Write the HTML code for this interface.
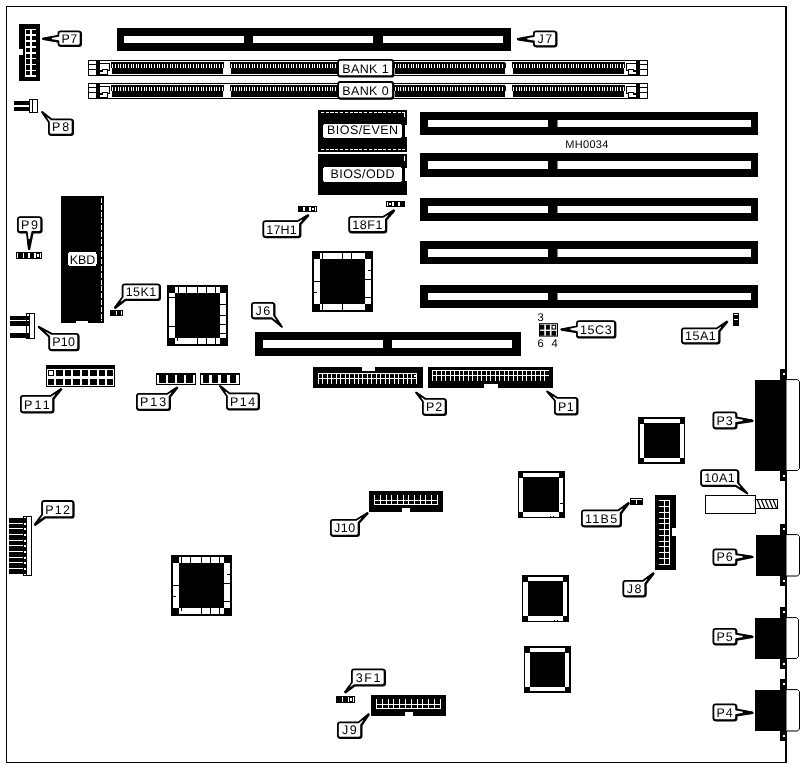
<!DOCTYPE html>
<html lang="en">
<head>
<meta charset="utf-8">
<title>MH0034 motherboard layout</title>
<style>
html,body{margin:0;padding:0;background:#fff;}
body{width:804px;height:768px;overflow:hidden;font-family:"Liberation Sans",sans-serif;}
svg{display:block;filter:grayscale(1);}
</style>
</head>
<body>
<svg width="804" height="768" viewBox="0 0 804 768" font-family="'Liberation Sans', sans-serif" shape-rendering="crispEdges" text-rendering="geometricPrecision">
<rect x="0" y="0" width="804" height="768" fill="#fff"/>
<rect x="6" y="6" width="781" height="1" fill="#000"/>
<rect x="6" y="6" width="1" height="757" fill="#000"/>
<rect x="6" y="762" width="781" height="1" fill="#000"/>
<rect x="785" y="6" width="2" height="757" fill="#000"/>
<rect x="117" y="28" width="394" height="22.5" fill="#000"/>
<rect x="123.5" y="36" width="120.5" height="7" fill="#fff"/>
<rect x="253" y="36" width="120" height="7" fill="#fff"/>
<rect x="383" y="36" width="120" height="7" fill="#fff"/>
<rect x="88.5" y="60.5" width="559" height="15" fill="#fff" stroke="#000" stroke-width="1"/>
<rect x="88" y="64" width="8.2" height="1" fill="#000"/>
<rect x="88" y="69" width="8.2" height="1" fill="#000"/>
<rect x="96.2" y="61" width="3.8" height="15" fill="#000"/>
<rect x="99.5" y="63" width="10.5" height="8" fill="#000"/>
<rect x="100.4" y="64" width="8.6" height="6" fill="#fff"/>
<rect x="100" y="69.2" width="8.1" height="6.8" fill="#000"/>
<rect x="100.4" y="69.2" width="1.8" height="1.2" fill="#fff"/>
<rect x="103.1" y="70.4" width="4" height="1.6" fill="#fff"/>
<rect x="100.4" y="72" width="6.7" height="2" fill="#fff"/>
<rect x="639.8" y="64" width="8.2" height="1" fill="#000"/>
<rect x="639.8" y="69" width="8.2" height="1" fill="#000"/>
<rect x="636" y="61" width="3.8" height="15" fill="#000"/>
<rect x="626" y="63" width="10.5" height="8" fill="#000"/>
<rect x="627" y="64" width="8.6" height="6" fill="#fff"/>
<rect x="627.9" y="69.2" width="8.1" height="6.8" fill="#000"/>
<rect x="633.8" y="69.2" width="1.8" height="1.2" fill="#fff"/>
<rect x="628.9" y="70.4" width="4" height="1.6" fill="#fff"/>
<rect x="628.9" y="72" width="6.7" height="2" fill="#fff"/>
<path d="M112.5 62 H222.5 Q223.9 62 223.9 63.5 V68.4 H223 V73.8 H112 V68.4 H111.1 V63.5 Q111.1 62 112.5 62 Z" fill="#000"/>
<rect x="112" y="64" width="1" height="4" fill="#fff"/>
<rect x="115" y="64" width="1" height="4" fill="#fff"/>
<rect x="118" y="64" width="1" height="4" fill="#fff"/>
<rect x="120" y="64" width="1" height="4" fill="#fff"/>
<rect x="123" y="64" width="1" height="4" fill="#fff"/>
<rect x="125" y="64" width="1" height="4" fill="#fff"/>
<rect x="128" y="64" width="1" height="4" fill="#fff"/>
<rect x="131" y="64" width="1" height="4" fill="#fff"/>
<rect x="133" y="64" width="1" height="4" fill="#fff"/>
<rect x="136" y="64" width="1" height="4" fill="#fff"/>
<rect x="138" y="64" width="1" height="4" fill="#fff"/>
<rect x="141" y="64" width="1" height="4" fill="#fff"/>
<rect x="144" y="64" width="1" height="4" fill="#fff"/>
<rect x="146" y="64" width="1" height="4" fill="#fff"/>
<rect x="149" y="64" width="1" height="4" fill="#fff"/>
<rect x="151" y="64" width="1" height="4" fill="#fff"/>
<rect x="154" y="64" width="1" height="4" fill="#fff"/>
<rect x="157" y="64" width="1" height="4" fill="#fff"/>
<rect x="159" y="64" width="1" height="4" fill="#fff"/>
<rect x="162" y="64" width="1" height="4" fill="#fff"/>
<rect x="164" y="64" width="1" height="4" fill="#fff"/>
<rect x="167" y="64" width="1" height="4" fill="#fff"/>
<rect x="170" y="64" width="1" height="4" fill="#fff"/>
<rect x="172" y="64" width="1" height="4" fill="#fff"/>
<rect x="175" y="64" width="1" height="4" fill="#fff"/>
<rect x="177" y="64" width="1" height="4" fill="#fff"/>
<rect x="180" y="64" width="1" height="4" fill="#fff"/>
<rect x="183" y="64" width="1" height="4" fill="#fff"/>
<rect x="185" y="64" width="1" height="4" fill="#fff"/>
<rect x="188" y="64" width="1" height="4" fill="#fff"/>
<rect x="190" y="64" width="1" height="4" fill="#fff"/>
<rect x="193" y="64" width="1" height="4" fill="#fff"/>
<rect x="196" y="64" width="1" height="4" fill="#fff"/>
<rect x="198" y="64" width="1" height="4" fill="#fff"/>
<rect x="201" y="64" width="1" height="4" fill="#fff"/>
<rect x="203" y="64" width="1" height="4" fill="#fff"/>
<rect x="206" y="64" width="1" height="4" fill="#fff"/>
<rect x="209" y="64" width="1" height="4" fill="#fff"/>
<rect x="211" y="64" width="1" height="4" fill="#fff"/>
<rect x="214" y="64" width="1" height="4" fill="#fff"/>
<rect x="216" y="64" width="1" height="4" fill="#fff"/>
<rect x="219" y="64" width="1" height="4" fill="#fff"/>
<rect x="222" y="64" width="1" height="4" fill="#fff"/>
<path d="M231 62 H341 Q342.4 62 342.4 63.5 V68.4 H341.5 V73.8 H230.5 V68.4 H229.6 V63.5 Q229.6 62 231 62 Z" fill="#000"/>
<rect x="231" y="64" width="1" height="4" fill="#fff"/>
<rect x="234" y="64" width="1" height="4" fill="#fff"/>
<rect x="236" y="64" width="1" height="4" fill="#fff"/>
<rect x="239" y="64" width="1" height="4" fill="#fff"/>
<rect x="241" y="64" width="1" height="4" fill="#fff"/>
<rect x="244" y="64" width="1" height="4" fill="#fff"/>
<rect x="246" y="64" width="1" height="4" fill="#fff"/>
<rect x="249" y="64" width="1" height="4" fill="#fff"/>
<rect x="252" y="64" width="1" height="4" fill="#fff"/>
<rect x="254" y="64" width="1" height="4" fill="#fff"/>
<rect x="257" y="64" width="1" height="4" fill="#fff"/>
<rect x="260" y="64" width="1" height="4" fill="#fff"/>
<rect x="262" y="64" width="1" height="4" fill="#fff"/>
<rect x="265" y="64" width="1" height="4" fill="#fff"/>
<rect x="267" y="64" width="1" height="4" fill="#fff"/>
<rect x="270" y="64" width="1" height="4" fill="#fff"/>
<rect x="273" y="64" width="1" height="4" fill="#fff"/>
<rect x="275" y="64" width="1" height="4" fill="#fff"/>
<rect x="278" y="64" width="1" height="4" fill="#fff"/>
<rect x="280" y="64" width="1" height="4" fill="#fff"/>
<rect x="283" y="64" width="1" height="4" fill="#fff"/>
<rect x="286" y="64" width="1" height="4" fill="#fff"/>
<rect x="288" y="64" width="1" height="4" fill="#fff"/>
<rect x="291" y="64" width="1" height="4" fill="#fff"/>
<rect x="293" y="64" width="1" height="4" fill="#fff"/>
<rect x="296" y="64" width="1" height="4" fill="#fff"/>
<rect x="299" y="64" width="1" height="4" fill="#fff"/>
<rect x="301" y="64" width="1" height="4" fill="#fff"/>
<rect x="304" y="64" width="1" height="4" fill="#fff"/>
<rect x="306" y="64" width="1" height="4" fill="#fff"/>
<rect x="309" y="64" width="1" height="4" fill="#fff"/>
<rect x="312" y="64" width="1" height="4" fill="#fff"/>
<rect x="314" y="64" width="1" height="4" fill="#fff"/>
<rect x="317" y="64" width="1" height="4" fill="#fff"/>
<rect x="319" y="64" width="1" height="4" fill="#fff"/>
<rect x="322" y="64" width="1" height="4" fill="#fff"/>
<rect x="325" y="64" width="1" height="4" fill="#fff"/>
<rect x="327" y="64" width="1" height="4" fill="#fff"/>
<rect x="330" y="64" width="1" height="4" fill="#fff"/>
<rect x="332" y="64" width="1" height="4" fill="#fff"/>
<rect x="335" y="64" width="1" height="4" fill="#fff"/>
<rect x="338" y="64" width="1" height="4" fill="#fff"/>
<rect x="340" y="64" width="1" height="4" fill="#fff"/>
<path d="M395 62 H504.2 Q505.6 62 505.6 63.5 V68.4 H504.7 V73.8 H394.5 V68.4 H393.6 V63.5 Q393.6 62 395 62 Z" fill="#000"/>
<rect x="395" y="64" width="1" height="4" fill="#fff"/>
<rect x="398" y="64" width="1" height="4" fill="#fff"/>
<rect x="400" y="64" width="1" height="4" fill="#fff"/>
<rect x="403" y="64" width="1" height="4" fill="#fff"/>
<rect x="405" y="64" width="1" height="4" fill="#fff"/>
<rect x="408" y="64" width="1" height="4" fill="#fff"/>
<rect x="411" y="64" width="1" height="4" fill="#fff"/>
<rect x="413" y="64" width="1" height="4" fill="#fff"/>
<rect x="416" y="64" width="1" height="4" fill="#fff"/>
<rect x="418" y="64" width="1" height="4" fill="#fff"/>
<rect x="421" y="64" width="1" height="4" fill="#fff"/>
<rect x="424" y="64" width="1" height="4" fill="#fff"/>
<rect x="426" y="64" width="1" height="4" fill="#fff"/>
<rect x="429" y="64" width="1" height="4" fill="#fff"/>
<rect x="431" y="64" width="1" height="4" fill="#fff"/>
<rect x="434" y="64" width="1" height="4" fill="#fff"/>
<rect x="437" y="64" width="1" height="4" fill="#fff"/>
<rect x="439" y="64" width="1" height="4" fill="#fff"/>
<rect x="442" y="64" width="1" height="4" fill="#fff"/>
<rect x="444" y="64" width="1" height="4" fill="#fff"/>
<rect x="447" y="64" width="1" height="4" fill="#fff"/>
<rect x="450" y="64" width="1" height="4" fill="#fff"/>
<rect x="452" y="64" width="1" height="4" fill="#fff"/>
<rect x="455" y="64" width="1" height="4" fill="#fff"/>
<rect x="457" y="64" width="1" height="4" fill="#fff"/>
<rect x="460" y="64" width="1" height="4" fill="#fff"/>
<rect x="463" y="64" width="1" height="4" fill="#fff"/>
<rect x="465" y="64" width="1" height="4" fill="#fff"/>
<rect x="468" y="64" width="1" height="4" fill="#fff"/>
<rect x="470" y="64" width="1" height="4" fill="#fff"/>
<rect x="473" y="64" width="1" height="4" fill="#fff"/>
<rect x="476" y="64" width="1" height="4" fill="#fff"/>
<rect x="478" y="64" width="1" height="4" fill="#fff"/>
<rect x="481" y="64" width="1" height="4" fill="#fff"/>
<rect x="483" y="64" width="1" height="4" fill="#fff"/>
<rect x="486" y="64" width="1" height="4" fill="#fff"/>
<rect x="489" y="64" width="1" height="4" fill="#fff"/>
<rect x="491" y="64" width="1" height="4" fill="#fff"/>
<rect x="494" y="64" width="1" height="4" fill="#fff"/>
<rect x="496" y="64" width="1" height="4" fill="#fff"/>
<rect x="499" y="64" width="1" height="4" fill="#fff"/>
<rect x="502" y="64" width="1" height="4" fill="#fff"/>
<path d="M513.5 62 H623.5 Q624.9 62 624.9 63.5 V68.4 H624 V73.8 H513 V68.4 H512.1 V63.5 Q512.1 62 513.5 62 Z" fill="#000"/>
<rect x="513" y="64" width="1" height="4" fill="#fff"/>
<rect x="516" y="64" width="1" height="4" fill="#fff"/>
<rect x="519" y="64" width="1" height="4" fill="#fff"/>
<rect x="521" y="64" width="1" height="4" fill="#fff"/>
<rect x="524" y="64" width="1" height="4" fill="#fff"/>
<rect x="526" y="64" width="1" height="4" fill="#fff"/>
<rect x="529" y="64" width="1" height="4" fill="#fff"/>
<rect x="532" y="64" width="1" height="4" fill="#fff"/>
<rect x="534" y="64" width="1" height="4" fill="#fff"/>
<rect x="537" y="64" width="1" height="4" fill="#fff"/>
<rect x="539" y="64" width="1" height="4" fill="#fff"/>
<rect x="542" y="64" width="1" height="4" fill="#fff"/>
<rect x="545" y="64" width="1" height="4" fill="#fff"/>
<rect x="547" y="64" width="1" height="4" fill="#fff"/>
<rect x="550" y="64" width="1" height="4" fill="#fff"/>
<rect x="552" y="64" width="1" height="4" fill="#fff"/>
<rect x="555" y="64" width="1" height="4" fill="#fff"/>
<rect x="558" y="64" width="1" height="4" fill="#fff"/>
<rect x="560" y="64" width="1" height="4" fill="#fff"/>
<rect x="563" y="64" width="1" height="4" fill="#fff"/>
<rect x="565" y="64" width="1" height="4" fill="#fff"/>
<rect x="568" y="64" width="1" height="4" fill="#fff"/>
<rect x="571" y="64" width="1" height="4" fill="#fff"/>
<rect x="573" y="64" width="1" height="4" fill="#fff"/>
<rect x="576" y="64" width="1" height="4" fill="#fff"/>
<rect x="578" y="64" width="1" height="4" fill="#fff"/>
<rect x="581" y="64" width="1" height="4" fill="#fff"/>
<rect x="584" y="64" width="1" height="4" fill="#fff"/>
<rect x="586" y="64" width="1" height="4" fill="#fff"/>
<rect x="589" y="64" width="1" height="4" fill="#fff"/>
<rect x="591" y="64" width="1" height="4" fill="#fff"/>
<rect x="594" y="64" width="1" height="4" fill="#fff"/>
<rect x="597" y="64" width="1" height="4" fill="#fff"/>
<rect x="599" y="64" width="1" height="4" fill="#fff"/>
<rect x="602" y="64" width="1" height="4" fill="#fff"/>
<rect x="604" y="64" width="1" height="4" fill="#fff"/>
<rect x="607" y="64" width="1" height="4" fill="#fff"/>
<rect x="610" y="64" width="1" height="4" fill="#fff"/>
<rect x="612" y="64" width="1" height="4" fill="#fff"/>
<rect x="615" y="64" width="1" height="4" fill="#fff"/>
<rect x="617" y="64" width="1" height="4" fill="#fff"/>
<rect x="620" y="64" width="1" height="4" fill="#fff"/>
<rect x="623" y="64" width="1" height="4" fill="#fff"/>
<rect x="88.5" y="83.5" width="559" height="15" fill="#fff" stroke="#000" stroke-width="1"/>
<rect x="88" y="87" width="8.2" height="1" fill="#000"/>
<rect x="88" y="92" width="8.2" height="1" fill="#000"/>
<rect x="96.2" y="84" width="3.8" height="15" fill="#000"/>
<rect x="99.5" y="86" width="10.5" height="8" fill="#000"/>
<rect x="100.4" y="87" width="8.6" height="6" fill="#fff"/>
<rect x="100" y="92.2" width="8.1" height="6.8" fill="#000"/>
<rect x="100.4" y="92.2" width="1.8" height="1.2" fill="#fff"/>
<rect x="103.1" y="93.4" width="4" height="1.6" fill="#fff"/>
<rect x="100.4" y="95" width="6.7" height="2" fill="#fff"/>
<rect x="639.8" y="87" width="8.2" height="1" fill="#000"/>
<rect x="639.8" y="92" width="8.2" height="1" fill="#000"/>
<rect x="636" y="84" width="3.8" height="15" fill="#000"/>
<rect x="626" y="86" width="10.5" height="8" fill="#000"/>
<rect x="627" y="87" width="8.6" height="6" fill="#fff"/>
<rect x="627.9" y="92.2" width="8.1" height="6.8" fill="#000"/>
<rect x="633.8" y="92.2" width="1.8" height="1.2" fill="#fff"/>
<rect x="628.9" y="93.4" width="4" height="1.6" fill="#fff"/>
<rect x="628.9" y="95" width="6.7" height="2" fill="#fff"/>
<path d="M112.5 85 H222.5 Q223.9 85 223.9 86.5 V91.4 H223 V96.8 H112 V91.4 H111.1 V86.5 Q111.1 85 112.5 85 Z" fill="#000"/>
<rect x="112" y="87" width="1" height="4" fill="#fff"/>
<rect x="115" y="87" width="1" height="4" fill="#fff"/>
<rect x="118" y="87" width="1" height="4" fill="#fff"/>
<rect x="120" y="87" width="1" height="4" fill="#fff"/>
<rect x="123" y="87" width="1" height="4" fill="#fff"/>
<rect x="125" y="87" width="1" height="4" fill="#fff"/>
<rect x="128" y="87" width="1" height="4" fill="#fff"/>
<rect x="131" y="87" width="1" height="4" fill="#fff"/>
<rect x="133" y="87" width="1" height="4" fill="#fff"/>
<rect x="136" y="87" width="1" height="4" fill="#fff"/>
<rect x="138" y="87" width="1" height="4" fill="#fff"/>
<rect x="141" y="87" width="1" height="4" fill="#fff"/>
<rect x="144" y="87" width="1" height="4" fill="#fff"/>
<rect x="146" y="87" width="1" height="4" fill="#fff"/>
<rect x="149" y="87" width="1" height="4" fill="#fff"/>
<rect x="151" y="87" width="1" height="4" fill="#fff"/>
<rect x="154" y="87" width="1" height="4" fill="#fff"/>
<rect x="157" y="87" width="1" height="4" fill="#fff"/>
<rect x="159" y="87" width="1" height="4" fill="#fff"/>
<rect x="162" y="87" width="1" height="4" fill="#fff"/>
<rect x="164" y="87" width="1" height="4" fill="#fff"/>
<rect x="167" y="87" width="1" height="4" fill="#fff"/>
<rect x="170" y="87" width="1" height="4" fill="#fff"/>
<rect x="172" y="87" width="1" height="4" fill="#fff"/>
<rect x="175" y="87" width="1" height="4" fill="#fff"/>
<rect x="177" y="87" width="1" height="4" fill="#fff"/>
<rect x="180" y="87" width="1" height="4" fill="#fff"/>
<rect x="183" y="87" width="1" height="4" fill="#fff"/>
<rect x="185" y="87" width="1" height="4" fill="#fff"/>
<rect x="188" y="87" width="1" height="4" fill="#fff"/>
<rect x="190" y="87" width="1" height="4" fill="#fff"/>
<rect x="193" y="87" width="1" height="4" fill="#fff"/>
<rect x="196" y="87" width="1" height="4" fill="#fff"/>
<rect x="198" y="87" width="1" height="4" fill="#fff"/>
<rect x="201" y="87" width="1" height="4" fill="#fff"/>
<rect x="203" y="87" width="1" height="4" fill="#fff"/>
<rect x="206" y="87" width="1" height="4" fill="#fff"/>
<rect x="209" y="87" width="1" height="4" fill="#fff"/>
<rect x="211" y="87" width="1" height="4" fill="#fff"/>
<rect x="214" y="87" width="1" height="4" fill="#fff"/>
<rect x="216" y="87" width="1" height="4" fill="#fff"/>
<rect x="219" y="87" width="1" height="4" fill="#fff"/>
<rect x="222" y="87" width="1" height="4" fill="#fff"/>
<path d="M231 85 H341 Q342.4 85 342.4 86.5 V91.4 H341.5 V96.8 H230.5 V91.4 H229.6 V86.5 Q229.6 85 231 85 Z" fill="#000"/>
<rect x="231" y="87" width="1" height="4" fill="#fff"/>
<rect x="234" y="87" width="1" height="4" fill="#fff"/>
<rect x="236" y="87" width="1" height="4" fill="#fff"/>
<rect x="239" y="87" width="1" height="4" fill="#fff"/>
<rect x="241" y="87" width="1" height="4" fill="#fff"/>
<rect x="244" y="87" width="1" height="4" fill="#fff"/>
<rect x="246" y="87" width="1" height="4" fill="#fff"/>
<rect x="249" y="87" width="1" height="4" fill="#fff"/>
<rect x="252" y="87" width="1" height="4" fill="#fff"/>
<rect x="254" y="87" width="1" height="4" fill="#fff"/>
<rect x="257" y="87" width="1" height="4" fill="#fff"/>
<rect x="260" y="87" width="1" height="4" fill="#fff"/>
<rect x="262" y="87" width="1" height="4" fill="#fff"/>
<rect x="265" y="87" width="1" height="4" fill="#fff"/>
<rect x="267" y="87" width="1" height="4" fill="#fff"/>
<rect x="270" y="87" width="1" height="4" fill="#fff"/>
<rect x="273" y="87" width="1" height="4" fill="#fff"/>
<rect x="275" y="87" width="1" height="4" fill="#fff"/>
<rect x="278" y="87" width="1" height="4" fill="#fff"/>
<rect x="280" y="87" width="1" height="4" fill="#fff"/>
<rect x="283" y="87" width="1" height="4" fill="#fff"/>
<rect x="286" y="87" width="1" height="4" fill="#fff"/>
<rect x="288" y="87" width="1" height="4" fill="#fff"/>
<rect x="291" y="87" width="1" height="4" fill="#fff"/>
<rect x="293" y="87" width="1" height="4" fill="#fff"/>
<rect x="296" y="87" width="1" height="4" fill="#fff"/>
<rect x="299" y="87" width="1" height="4" fill="#fff"/>
<rect x="301" y="87" width="1" height="4" fill="#fff"/>
<rect x="304" y="87" width="1" height="4" fill="#fff"/>
<rect x="306" y="87" width="1" height="4" fill="#fff"/>
<rect x="309" y="87" width="1" height="4" fill="#fff"/>
<rect x="312" y="87" width="1" height="4" fill="#fff"/>
<rect x="314" y="87" width="1" height="4" fill="#fff"/>
<rect x="317" y="87" width="1" height="4" fill="#fff"/>
<rect x="319" y="87" width="1" height="4" fill="#fff"/>
<rect x="322" y="87" width="1" height="4" fill="#fff"/>
<rect x="325" y="87" width="1" height="4" fill="#fff"/>
<rect x="327" y="87" width="1" height="4" fill="#fff"/>
<rect x="330" y="87" width="1" height="4" fill="#fff"/>
<rect x="332" y="87" width="1" height="4" fill="#fff"/>
<rect x="335" y="87" width="1" height="4" fill="#fff"/>
<rect x="338" y="87" width="1" height="4" fill="#fff"/>
<rect x="340" y="87" width="1" height="4" fill="#fff"/>
<path d="M395 85 H504.2 Q505.6 85 505.6 86.5 V91.4 H504.7 V96.8 H394.5 V91.4 H393.6 V86.5 Q393.6 85 395 85 Z" fill="#000"/>
<rect x="395" y="87" width="1" height="4" fill="#fff"/>
<rect x="398" y="87" width="1" height="4" fill="#fff"/>
<rect x="400" y="87" width="1" height="4" fill="#fff"/>
<rect x="403" y="87" width="1" height="4" fill="#fff"/>
<rect x="405" y="87" width="1" height="4" fill="#fff"/>
<rect x="408" y="87" width="1" height="4" fill="#fff"/>
<rect x="411" y="87" width="1" height="4" fill="#fff"/>
<rect x="413" y="87" width="1" height="4" fill="#fff"/>
<rect x="416" y="87" width="1" height="4" fill="#fff"/>
<rect x="418" y="87" width="1" height="4" fill="#fff"/>
<rect x="421" y="87" width="1" height="4" fill="#fff"/>
<rect x="424" y="87" width="1" height="4" fill="#fff"/>
<rect x="426" y="87" width="1" height="4" fill="#fff"/>
<rect x="429" y="87" width="1" height="4" fill="#fff"/>
<rect x="431" y="87" width="1" height="4" fill="#fff"/>
<rect x="434" y="87" width="1" height="4" fill="#fff"/>
<rect x="437" y="87" width="1" height="4" fill="#fff"/>
<rect x="439" y="87" width="1" height="4" fill="#fff"/>
<rect x="442" y="87" width="1" height="4" fill="#fff"/>
<rect x="444" y="87" width="1" height="4" fill="#fff"/>
<rect x="447" y="87" width="1" height="4" fill="#fff"/>
<rect x="450" y="87" width="1" height="4" fill="#fff"/>
<rect x="452" y="87" width="1" height="4" fill="#fff"/>
<rect x="455" y="87" width="1" height="4" fill="#fff"/>
<rect x="457" y="87" width="1" height="4" fill="#fff"/>
<rect x="460" y="87" width="1" height="4" fill="#fff"/>
<rect x="463" y="87" width="1" height="4" fill="#fff"/>
<rect x="465" y="87" width="1" height="4" fill="#fff"/>
<rect x="468" y="87" width="1" height="4" fill="#fff"/>
<rect x="470" y="87" width="1" height="4" fill="#fff"/>
<rect x="473" y="87" width="1" height="4" fill="#fff"/>
<rect x="476" y="87" width="1" height="4" fill="#fff"/>
<rect x="478" y="87" width="1" height="4" fill="#fff"/>
<rect x="481" y="87" width="1" height="4" fill="#fff"/>
<rect x="483" y="87" width="1" height="4" fill="#fff"/>
<rect x="486" y="87" width="1" height="4" fill="#fff"/>
<rect x="489" y="87" width="1" height="4" fill="#fff"/>
<rect x="491" y="87" width="1" height="4" fill="#fff"/>
<rect x="494" y="87" width="1" height="4" fill="#fff"/>
<rect x="496" y="87" width="1" height="4" fill="#fff"/>
<rect x="499" y="87" width="1" height="4" fill="#fff"/>
<rect x="502" y="87" width="1" height="4" fill="#fff"/>
<path d="M513.5 85 H623.5 Q624.9 85 624.9 86.5 V91.4 H624 V96.8 H513 V91.4 H512.1 V86.5 Q512.1 85 513.5 85 Z" fill="#000"/>
<rect x="513" y="87" width="1" height="4" fill="#fff"/>
<rect x="516" y="87" width="1" height="4" fill="#fff"/>
<rect x="519" y="87" width="1" height="4" fill="#fff"/>
<rect x="521" y="87" width="1" height="4" fill="#fff"/>
<rect x="524" y="87" width="1" height="4" fill="#fff"/>
<rect x="526" y="87" width="1" height="4" fill="#fff"/>
<rect x="529" y="87" width="1" height="4" fill="#fff"/>
<rect x="532" y="87" width="1" height="4" fill="#fff"/>
<rect x="534" y="87" width="1" height="4" fill="#fff"/>
<rect x="537" y="87" width="1" height="4" fill="#fff"/>
<rect x="539" y="87" width="1" height="4" fill="#fff"/>
<rect x="542" y="87" width="1" height="4" fill="#fff"/>
<rect x="545" y="87" width="1" height="4" fill="#fff"/>
<rect x="547" y="87" width="1" height="4" fill="#fff"/>
<rect x="550" y="87" width="1" height="4" fill="#fff"/>
<rect x="552" y="87" width="1" height="4" fill="#fff"/>
<rect x="555" y="87" width="1" height="4" fill="#fff"/>
<rect x="558" y="87" width="1" height="4" fill="#fff"/>
<rect x="560" y="87" width="1" height="4" fill="#fff"/>
<rect x="563" y="87" width="1" height="4" fill="#fff"/>
<rect x="565" y="87" width="1" height="4" fill="#fff"/>
<rect x="568" y="87" width="1" height="4" fill="#fff"/>
<rect x="571" y="87" width="1" height="4" fill="#fff"/>
<rect x="573" y="87" width="1" height="4" fill="#fff"/>
<rect x="576" y="87" width="1" height="4" fill="#fff"/>
<rect x="578" y="87" width="1" height="4" fill="#fff"/>
<rect x="581" y="87" width="1" height="4" fill="#fff"/>
<rect x="584" y="87" width="1" height="4" fill="#fff"/>
<rect x="586" y="87" width="1" height="4" fill="#fff"/>
<rect x="589" y="87" width="1" height="4" fill="#fff"/>
<rect x="591" y="87" width="1" height="4" fill="#fff"/>
<rect x="594" y="87" width="1" height="4" fill="#fff"/>
<rect x="597" y="87" width="1" height="4" fill="#fff"/>
<rect x="599" y="87" width="1" height="4" fill="#fff"/>
<rect x="602" y="87" width="1" height="4" fill="#fff"/>
<rect x="604" y="87" width="1" height="4" fill="#fff"/>
<rect x="607" y="87" width="1" height="4" fill="#fff"/>
<rect x="610" y="87" width="1" height="4" fill="#fff"/>
<rect x="612" y="87" width="1" height="4" fill="#fff"/>
<rect x="615" y="87" width="1" height="4" fill="#fff"/>
<rect x="617" y="87" width="1" height="4" fill="#fff"/>
<rect x="620" y="87" width="1" height="4" fill="#fff"/>
<rect x="623" y="87" width="1" height="4" fill="#fff"/>
<rect x="318" y="110" width="89" height="41.6" fill="#000"/>
<rect x="323" y="124" width="79" height="13.7" rx="2.5" fill="#fff"/>
<rect x="405" y="125" width="2" height="11.9" fill="#fff"/>
<text x="362.5" y="134.1" font-size="12.5" text-anchor="middle" fill="#000" textLength="71" lengthAdjust="spacing">BIOS/EVEN</text>
<line x1="320.7" y1="112.6" x2="404.5" y2="112.6" stroke="#fff" stroke-width="1" stroke-dasharray="3.2 1.6"/>
<rect x="404" y="112.1" width="1" height="4.4" fill="#fff"/>
<line x1="320.7" y1="149.1" x2="404.5" y2="149.1" stroke="#fff" stroke-width="1" stroke-dasharray="3.2 1.6"/>
<rect x="318" y="154.1" width="89" height="40.7" fill="#000"/>
<rect x="323" y="167.2" width="79" height="14.8" rx="2.5" fill="#fff"/>
<rect x="405" y="168.2" width="2" height="13" fill="#fff"/>
<text x="362.5" y="178.4" font-size="12.5" text-anchor="middle" fill="#000" textLength="64" lengthAdjust="spacing">BIOS/ODD</text>
<rect x="404" y="156.1" width="1" height="4.8" fill="#fff"/>
<g shape-rendering="geometricPrecision">
<rect x="420" y="112" width="338" height="23" fill="#000"/>
<rect x="428" y="120" width="120" height="7" fill="#fff"/>
<rect x="557.5" y="120" width="193.5" height="7" fill="#fff"/>
<rect x="420" y="153" width="338" height="24" fill="#000"/>
<rect x="428" y="161" width="120" height="8" fill="#fff"/>
<rect x="557.5" y="161" width="193.5" height="8" fill="#fff"/>
<rect x="420" y="198" width="338" height="23" fill="#000"/>
<rect x="428" y="206" width="120" height="7" fill="#fff"/>
<rect x="557.5" y="206" width="193.5" height="7" fill="#fff"/>
<rect x="420" y="241" width="338" height="23" fill="#000"/>
<rect x="428" y="249" width="120" height="8" fill="#fff"/>
<rect x="557.5" y="249" width="193.5" height="8" fill="#fff"/>
<rect x="420" y="285" width="338" height="23" fill="#000"/>
<rect x="428" y="293" width="120" height="7" fill="#fff"/>
<rect x="557.5" y="293" width="193.5" height="7" fill="#fff"/>
</g>
<text x="565.2" y="148" font-size="11" text-anchor="start" fill="#000" textLength="43.2" lengthAdjust="spacing">MH0034</text>
<rect x="19" y="24" width="21" height="56.8" fill="#000"/>
<rect x="19" y="49" width="4" height="6" fill="#fff"/>
<rect x="25" y="28.6" width="1" height="47.4" fill="#fff"/>
<rect x="30.3" y="28.6" width="1.5" height="47.4" fill="#fff"/>
<rect x="25" y="28.6" width="11" height="1.5" fill="#fff"/>
<rect x="25" y="34.4" width="11" height="1.5" fill="#fff"/>
<rect x="25" y="40.3" width="11" height="1.5" fill="#fff"/>
<rect x="25" y="46.1" width="11" height="1.5" fill="#fff"/>
<rect x="25" y="52" width="11" height="1.5" fill="#fff"/>
<rect x="25" y="57.9" width="11" height="1.5" fill="#fff"/>
<rect x="25" y="63.8" width="11" height="1.5" fill="#fff"/>
<rect x="25" y="69.6" width="11" height="1.5" fill="#fff"/>
<rect x="25" y="75" width="11" height="1.5" fill="#fff"/>
<rect x="14" y="101" width="15.5" height="4.2" fill="#000"/>
<rect x="14" y="106.8" width="15.5" height="4.2" fill="#000"/>
<rect x="29.8" y="99.5" width="7.7" height="12.6" fill="#fff" stroke="#000" stroke-width="1"/>
<line x1="32.2" y1="99" x2="32.2" y2="112.6" stroke="#000" stroke-width="1"/>
<rect x="60.8" y="196.2" width="43.4" height="126.6" fill="#000"/>
<rect x="76.4" y="320.6" width="11.6" height="2.4" fill="#fff"/>
<line x1="101.6" y1="198" x2="101.6" y2="321" stroke="#fff" stroke-width="1" stroke-dasharray="5 1.8"/>
<rect x="68.4" y="252" width="28.1" height="13.7" rx="1.5" fill="#fff"/>
<text x="82.5" y="263.6" font-size="12.5" text-anchor="middle" fill="#000" textLength="25.5" lengthAdjust="spacing">KBD</text>
<rect x="16" y="252" width="26" height="7" fill="#000"/>
<rect x="17" y="253" width="1" height="5" fill="#fff"/>
<rect x="23" y="253" width="1" height="5" fill="#fff"/>
<rect x="28" y="253" width="2" height="5" fill="#fff"/>
<rect x="34" y="253" width="2" height="5" fill="#fff"/>
<rect x="40" y="253" width="1" height="5" fill="#fff"/>
<rect x="37" y="254" width="2" height="3" fill="#fff"/>
<rect x="10" y="316" width="19" height="3.8" fill="#000"/>
<rect x="10" y="321.1" width="19" height="4.8" fill="#000"/>
<rect x="10" y="333.1" width="19" height="4.8" fill="#000"/>
<rect x="26.5" y="313.5" width="8.1" height="24.7" fill="none" stroke="#000" stroke-width="1"/>
<rect x="29.9" y="314" width="4.2" height="23.7" fill="#fff"/>
<rect x="27" y="314" width="2" height="2" fill="#fff"/>
<rect x="27" y="319.8" width="2" height="1.3" fill="#fff"/>
<rect x="27" y="325.9" width="2" height="7.2" fill="#fff"/>
<line x1="29.5" y1="313" x2="29.5" y2="338.7" stroke="#000" stroke-width="1"/>
<rect x="110" y="310" width="13" height="6" fill="#000"/>
<rect x="116" y="311" width="1" height="4" fill="#fff"/>
<rect x="121" y="311" width="1" height="4" fill="#fff"/>
<rect x="167" y="285" width="61" height="61" fill="#000"/>
<rect x="175.2" y="287" width="44.6" height="5.7" fill="#fff"/>
<rect x="175.2" y="338.3" width="44.6" height="5.7" fill="#fff"/>
<rect x="169" y="293.2" width="5.7" height="44.6" fill="#fff"/>
<rect x="220.3" y="293.2" width="5.7" height="44.6" fill="#fff"/>
<rect x="177.5" y="287" width="1" height="5.7" fill="#000"/>
<rect x="186.2" y="287" width="1" height="5.7" fill="#000"/>
<rect x="197.2" y="287" width="1" height="5.7" fill="#000"/>
<rect x="206.3" y="287" width="1" height="5.7" fill="#000"/>
<rect x="215.2" y="287" width="1" height="5.7" fill="#000"/>
<rect x="220.3" y="303.5" width="5.7" height="1" fill="#000"/>
<rect x="220.3" y="314.7" width="5.7" height="1" fill="#000"/>
<rect x="220.3" y="324" width="5.7" height="1" fill="#000"/>
<rect x="220.3" y="333" width="5.7" height="1" fill="#000"/>
<rect x="169" y="296.7" width="5.7" height="1" fill="#000"/>
<rect x="169" y="325.7" width="5.7" height="1" fill="#000"/>
<rect x="177" y="338.3" width="1" height="2.56" fill="#000"/>
<rect x="197.2" y="338.3" width="1" height="5.7" fill="#000"/>
<rect x="206.3" y="338.3" width="1" height="5.7" fill="#000"/>
<rect x="215.2" y="338.3" width="1" height="5.7" fill="#000"/>
<rect x="312" y="251" width="61" height="61" fill="#000"/>
<rect x="320.2" y="253" width="44.6" height="5.7" fill="#fff"/>
<rect x="320.2" y="304.3" width="44.6" height="5.7" fill="#fff"/>
<rect x="314" y="259.2" width="5.7" height="44.6" fill="#fff"/>
<rect x="365.3" y="259.2" width="5.7" height="44.6" fill="#fff"/>
<rect x="322" y="253" width="1" height="5.7" fill="#000"/>
<rect x="342.2" y="253" width="1" height="5.7" fill="#000"/>
<rect x="351.1" y="253" width="1" height="5.7" fill="#000"/>
<rect x="368.44" y="269.8" width="2.56" height="1" fill="#000"/>
<rect x="365.3" y="279.2" width="5.7" height="1" fill="#000"/>
<rect x="365.3" y="296.8" width="5.7" height="1" fill="#000"/>
<rect x="314" y="281" width="5.7" height="1" fill="#000"/>
<rect x="314" y="292" width="2.56" height="1" fill="#000"/>
<rect x="322" y="304.3" width="1" height="5.7" fill="#000"/>
<rect x="342.2" y="304.3" width="1" height="5.7" fill="#000"/>
<rect x="171" y="555" width="61" height="61" fill="#000"/>
<rect x="179.2" y="557" width="44.6" height="5.7" fill="#fff"/>
<rect x="179.2" y="608.3" width="44.6" height="5.7" fill="#fff"/>
<rect x="173" y="563.2" width="5.7" height="44.6" fill="#fff"/>
<rect x="224.3" y="563.2" width="5.7" height="44.6" fill="#fff"/>
<rect x="181" y="557" width="1" height="5.7" fill="#000"/>
<rect x="190.2" y="557" width="1" height="5.7" fill="#000"/>
<rect x="201.2" y="557" width="1" height="5.7" fill="#000"/>
<rect x="210.3" y="557" width="1" height="5.7" fill="#000"/>
<rect x="219.2" y="557" width="1" height="5.7" fill="#000"/>
<rect x="227.44" y="573.8" width="2.56" height="1" fill="#000"/>
<rect x="224.3" y="583.2" width="5.7" height="1" fill="#000"/>
<rect x="224.3" y="600.8" width="5.7" height="1" fill="#000"/>
<rect x="173" y="585" width="5.7" height="1" fill="#000"/>
<rect x="173" y="596" width="2.56" height="1" fill="#000"/>
<rect x="181" y="608.3" width="1" height="2.57" fill="#000"/>
<rect x="201.2" y="608.3" width="1" height="5.7" fill="#000"/>
<rect x="210.3" y="608.3" width="1" height="5.7" fill="#000"/>
<rect x="219.2" y="608.3" width="1" height="5.7" fill="#000"/>
<rect x="255" y="332" width="266" height="24" fill="#000"/>
<rect x="262.5" y="340" width="120.5" height="8" fill="#fff"/>
<rect x="392" y="340" width="120" height="8" fill="#fff"/>
<rect x="298" y="206" width="19" height="6" fill="#000"/>
<rect x="303" y="207" width="2" height="4" fill="#fff"/>
<rect x="309" y="207" width="2" height="4" fill="#fff"/>
<rect x="315" y="207" width="1" height="4" fill="#fff"/>
<rect x="312" y="208" width="2" height="2" fill="#fff"/>
<rect x="386" y="201" width="19" height="6" fill="#000"/>
<rect x="387" y="202" width="1" height="4" fill="#fff"/>
<rect x="392" y="202" width="2" height="4" fill="#fff"/>
<rect x="398" y="202" width="2" height="4" fill="#fff"/>
<rect x="389" y="203" width="2" height="2" fill="#fff"/>
<g shape-rendering="geometricPrecision">
<rect x="539" y="323.2" width="19" height="13.4" fill="#000"/>
<rect x="540" y="324.2" width="17" height="11.5" fill="#fff"/>
<rect x="540" y="324.7" width="4.3" height="4.9" fill="#000"/>
<rect x="545.9" y="324.7" width="4" height="4.9" fill="#000"/>
<rect x="551.5" y="324.7" width="4.7" height="4.9" fill="#000"/>
<rect x="540" y="330.9" width="4.3" height="4.8" fill="#000"/>
<rect x="545.9" y="330.9" width="4" height="4.8" fill="#000"/>
<rect x="551.5" y="330.9" width="4.7" height="4.8" fill="#000"/>
<rect x="552.6" y="325.8" width="2.5" height="2.7" fill="#fff"/>
</g>
<text x="540.7" y="320.5" font-size="11.2" text-anchor="middle" fill="#000">3</text>
<text x="540.7" y="347.1" font-size="11.2" text-anchor="middle" fill="#000">6</text>
<text x="554.7" y="347.1" font-size="11.2" text-anchor="middle" fill="#000">4</text>
<rect x="733" y="313" width="6" height="13" fill="#000"/>
<rect x="734" y="314" width="4" height="1" fill="#fff"/>
<rect x="734" y="319" width="4" height="1" fill="#fff"/>
<rect x="46.5" y="365.5" width="67.9" height="21" fill="#fff" stroke="#000" stroke-width="1"/>
<rect x="46" y="365" width="68.9" height="3.8" fill="#000"/>
<rect x="48.5" y="370.5" width="5" height="5" fill="#fff" stroke="#000" stroke-width="1"/>
<rect x="48" y="379" width="6.3" height="6" fill="#000"/>
<rect x="56.45" y="370" width="6.3" height="6" fill="#000"/>
<rect x="56.45" y="379" width="6.3" height="6" fill="#000"/>
<rect x="64.9" y="370" width="6.3" height="6" fill="#000"/>
<rect x="64.9" y="379" width="6.3" height="6" fill="#000"/>
<rect x="73.35" y="370" width="6.3" height="6" fill="#000"/>
<rect x="73.35" y="379" width="6.3" height="6" fill="#000"/>
<rect x="81.8" y="370" width="6.3" height="6" fill="#000"/>
<rect x="81.8" y="379" width="6.3" height="6" fill="#000"/>
<rect x="90.25" y="370" width="6.3" height="6" fill="#000"/>
<rect x="90.25" y="379" width="6.3" height="6" fill="#000"/>
<rect x="98.7" y="370" width="6.3" height="6" fill="#000"/>
<rect x="98.7" y="379" width="6.3" height="6" fill="#000"/>
<rect x="107.15" y="370" width="5.4" height="6" fill="#000"/>
<rect x="107.15" y="379" width="5.4" height="6" fill="#000"/>
<rect x="156.5" y="373.5" width="39.2" height="11.2" fill="#fff" stroke="#000" stroke-width="1"/>
<rect x="156" y="373" width="40.2" height="2.2" fill="#000"/>
<rect x="158.7" y="375" width="7" height="8" fill="#000"/>
<rect x="168" y="375" width="7" height="8" fill="#000"/>
<rect x="177" y="375" width="7" height="8" fill="#000"/>
<rect x="186" y="375" width="7" height="8" fill="#000"/>
<rect x="200.9" y="373.5" width="38.7" height="11.2" fill="#fff" stroke="#000" stroke-width="1"/>
<rect x="200.4" y="373" width="39.7" height="2.2" fill="#000"/>
<rect x="202.8" y="375" width="6.6" height="8" fill="#000"/>
<rect x="211.5" y="375" width="6.7" height="8" fill="#000"/>
<rect x="220.6" y="375" width="6.6" height="8" fill="#000"/>
<rect x="229.6" y="375" width="6.7" height="8" fill="#000"/>
<rect x="313" y="367" width="110" height="21" fill="#000"/>
<rect x="362" y="367" width="13" height="4" fill="#fff"/>
<rect x="318" y="373" width="99" height="1" fill="#fff"/>
<rect x="318" y="378" width="99" height="1" fill="#fff"/>
<rect x="318" y="373" width="1" height="11" fill="#fff"/>
<rect x="322" y="373" width="1" height="11" fill="#fff"/>
<rect x="327" y="373" width="1" height="11" fill="#fff"/>
<rect x="331" y="373" width="1" height="11" fill="#fff"/>
<rect x="336" y="373" width="1" height="11" fill="#fff"/>
<rect x="340" y="373" width="1" height="11" fill="#fff"/>
<rect x="345" y="373" width="1" height="11" fill="#fff"/>
<rect x="349" y="373" width="1" height="11" fill="#fff"/>
<rect x="354" y="373" width="1" height="11" fill="#fff"/>
<rect x="358" y="373" width="1" height="11" fill="#fff"/>
<rect x="362" y="373" width="1" height="11" fill="#fff"/>
<rect x="367" y="373" width="1" height="11" fill="#fff"/>
<rect x="371" y="373" width="1" height="11" fill="#fff"/>
<rect x="376" y="373" width="1" height="11" fill="#fff"/>
<rect x="380" y="373" width="1" height="11" fill="#fff"/>
<rect x="385" y="373" width="1" height="11" fill="#fff"/>
<rect x="389" y="373" width="1" height="11" fill="#fff"/>
<rect x="394" y="373" width="1" height="11" fill="#fff"/>
<rect x="398" y="373" width="1" height="11" fill="#fff"/>
<rect x="403" y="373" width="1" height="11" fill="#fff"/>
<rect x="407" y="373" width="1" height="11" fill="#fff"/>
<rect x="411" y="373" width="1" height="11" fill="#fff"/>
<rect x="416" y="373" width="1" height="11" fill="#fff"/>
<rect x="414" y="375" width="2" height="2" fill="#fff"/>
<rect x="428" y="367" width="125" height="21" fill="#000"/>
<rect x="484" y="384" width="14" height="4" fill="#fff"/>
<rect x="432" y="370" width="117" height="1" fill="#fff"/>
<rect x="432" y="375" width="117" height="1" fill="#fff"/>
<rect x="432" y="370" width="1" height="11" fill="#fff"/>
<rect x="436" y="370" width="1" height="11" fill="#fff"/>
<rect x="441" y="370" width="1" height="11" fill="#fff"/>
<rect x="445" y="370" width="1" height="11" fill="#fff"/>
<rect x="450" y="370" width="1" height="11" fill="#fff"/>
<rect x="454" y="370" width="1" height="11" fill="#fff"/>
<rect x="459" y="370" width="1" height="11" fill="#fff"/>
<rect x="463" y="370" width="1" height="11" fill="#fff"/>
<rect x="468" y="370" width="1" height="11" fill="#fff"/>
<rect x="472" y="370" width="1" height="11" fill="#fff"/>
<rect x="477" y="370" width="1" height="11" fill="#fff"/>
<rect x="481" y="370" width="1" height="11" fill="#fff"/>
<rect x="486" y="370" width="1" height="11" fill="#fff"/>
<rect x="490" y="370" width="1" height="11" fill="#fff"/>
<rect x="495" y="370" width="1" height="11" fill="#fff"/>
<rect x="499" y="370" width="1" height="11" fill="#fff"/>
<rect x="504" y="370" width="1" height="11" fill="#fff"/>
<rect x="508" y="370" width="1" height="11" fill="#fff"/>
<rect x="513" y="370" width="1" height="11" fill="#fff"/>
<rect x="517" y="370" width="1" height="11" fill="#fff"/>
<rect x="522" y="370" width="1" height="11" fill="#fff"/>
<rect x="526" y="370" width="1" height="11" fill="#fff"/>
<rect x="531" y="370" width="1" height="11" fill="#fff"/>
<rect x="535" y="370" width="1" height="11" fill="#fff"/>
<rect x="540" y="370" width="1" height="11" fill="#fff"/>
<rect x="544" y="370" width="1" height="11" fill="#fff"/>
<rect x="638" y="417" width="47" height="47" fill="#000"/>
<rect x="640" y="419" width="44" height="43" fill="#fff"/>
<rect x="644" y="423" width="36" height="35" fill="#000"/>
<rect x="638" y="417" width="6" height="7" fill="#000"/>
<rect x="680" y="417" width="5" height="7" fill="#000"/>
<rect x="638" y="458" width="6" height="6" fill="#000"/>
<rect x="680" y="458" width="5" height="6" fill="#000"/>
<rect x="518" y="471" width="47" height="47" fill="#000"/>
<rect x="519" y="473" width="44" height="44" fill="#fff"/>
<rect x="523" y="477" width="36" height="35" fill="#000"/>
<rect x="518" y="471" width="5" height="7" fill="#000"/>
<rect x="559" y="471" width="6" height="7" fill="#000"/>
<rect x="518" y="512" width="5" height="6" fill="#000"/>
<rect x="559" y="512" width="6" height="6" fill="#000"/>
<rect x="560" y="503" width="3" height="1" fill="#000"/>
<rect x="550" y="516" width="1" height="1" fill="#000"/>
<rect x="553" y="516" width="1" height="1" fill="#000"/>
<rect x="522" y="575" width="47" height="47" fill="#000"/>
<rect x="523" y="577" width="44" height="44" fill="#fff"/>
<rect x="528" y="581" width="35" height="35" fill="#000"/>
<rect x="522" y="575" width="6" height="7" fill="#000"/>
<rect x="563" y="575" width="6" height="7" fill="#000"/>
<rect x="522" y="616" width="6" height="6" fill="#000"/>
<rect x="563" y="616" width="6" height="6" fill="#000"/>
<rect x="554" y="620" width="1" height="1" fill="#000"/>
<rect x="557" y="620" width="1" height="1" fill="#000"/>
<rect x="524" y="646" width="47" height="47" fill="#000"/>
<rect x="525" y="648" width="44" height="43" fill="#fff"/>
<rect x="530" y="652" width="35" height="35" fill="#000"/>
<rect x="524" y="646" width="6" height="7" fill="#000"/>
<rect x="565" y="646" width="6" height="7" fill="#000"/>
<rect x="524" y="687" width="6" height="6" fill="#000"/>
<rect x="565" y="687" width="6" height="6" fill="#000"/>
<rect x="369" y="491.1" width="74" height="20.7" fill="#000"/>
<rect x="402.3" y="508" width="7.7" height="3.8" fill="#fff"/>
<rect x="374.4" y="499.65" width="63.4" height="1" fill="#fff"/>
<rect x="374.4" y="504.3" width="63.4" height="1" fill="#fff"/>
<rect x="374.4" y="495" width="1" height="10.3" fill="#fff"/>
<rect x="380.07" y="495" width="1" height="10.3" fill="#fff"/>
<rect x="385.75" y="495" width="1" height="10.3" fill="#fff"/>
<rect x="391.42" y="495" width="1" height="10.3" fill="#fff"/>
<rect x="397.09" y="495" width="1" height="10.3" fill="#fff"/>
<rect x="402.76" y="495" width="1" height="10.3" fill="#fff"/>
<rect x="408.44" y="495" width="1" height="10.3" fill="#fff"/>
<rect x="414.11" y="495" width="1" height="10.3" fill="#fff"/>
<rect x="419.78" y="495" width="1" height="10.3" fill="#fff"/>
<rect x="425.45" y="495" width="1" height="10.3" fill="#fff"/>
<rect x="431.13" y="495" width="1" height="10.3" fill="#fff"/>
<rect x="436.8" y="495" width="1" height="10.3" fill="#fff"/>
<rect x="370.9" y="694.8" width="75" height="21" fill="#000"/>
<rect x="404.8" y="712" width="8.2" height="3.8" fill="#fff"/>
<rect x="376" y="703.55" width="64.7" height="1" fill="#fff"/>
<rect x="376" y="708.3" width="64.7" height="1" fill="#fff"/>
<rect x="376" y="698.8" width="1" height="10.5" fill="#fff"/>
<rect x="381.79" y="698.8" width="1" height="10.5" fill="#fff"/>
<rect x="387.58" y="698.8" width="1" height="10.5" fill="#fff"/>
<rect x="393.37" y="698.8" width="1" height="10.5" fill="#fff"/>
<rect x="399.16" y="698.8" width="1" height="10.5" fill="#fff"/>
<rect x="404.95" y="698.8" width="1" height="10.5" fill="#fff"/>
<rect x="410.75" y="698.8" width="1" height="10.5" fill="#fff"/>
<rect x="416.54" y="698.8" width="1" height="10.5" fill="#fff"/>
<rect x="422.33" y="698.8" width="1" height="10.5" fill="#fff"/>
<rect x="428.12" y="698.8" width="1" height="10.5" fill="#fff"/>
<rect x="433.91" y="698.8" width="1" height="10.5" fill="#fff"/>
<rect x="439.7" y="698.8" width="1" height="10.5" fill="#fff"/>
<rect x="655" y="494.8" width="21.2" height="75.1" fill="#000"/>
<rect x="672.2" y="528" width="4" height="8" fill="#fff"/>
<rect x="664.3" y="500.4" width="1" height="64.3" fill="#fff"/>
<rect x="669" y="500.4" width="1" height="64.3" fill="#fff"/>
<rect x="659" y="500.4" width="11" height="1" fill="#fff"/>
<rect x="659" y="506.15" width="11" height="1" fill="#fff"/>
<rect x="659" y="511.91" width="11" height="1" fill="#fff"/>
<rect x="659" y="517.66" width="11" height="1" fill="#fff"/>
<rect x="659" y="523.42" width="11" height="1" fill="#fff"/>
<rect x="659" y="529.17" width="11" height="1" fill="#fff"/>
<rect x="659" y="534.93" width="11" height="1" fill="#fff"/>
<rect x="659" y="540.68" width="11" height="1" fill="#fff"/>
<rect x="659" y="546.44" width="11" height="1" fill="#fff"/>
<rect x="659" y="552.19" width="11" height="1" fill="#fff"/>
<rect x="659" y="557.95" width="11" height="1" fill="#fff"/>
<rect x="659" y="563.7" width="11" height="1" fill="#fff"/>
<rect x="630" y="498" width="13" height="7" fill="#000"/>
<rect x="631" y="499" width="11" height="1" fill="#fff"/>
<rect x="636" y="499" width="1" height="5" fill="#fff"/>
<rect x="705.7" y="495.6" width="50" height="17.7" fill="#fff" stroke="#000" stroke-width="1"/>
<rect x="755.7" y="499.9" width="21.5" height="8.2" fill="#fff" stroke="#000" stroke-width="1"/>
<g shape-rendering="geometricPrecision">
<path d="M756.8 500 L760 508 L761.3 508 L758.1 500 Z" fill="#000"/>
<path d="M760.8 500 L764 508 L765.3 508 L762.1 500 Z" fill="#000"/>
<path d="M764.8 500 L768 508 L769.3 508 L766.1 500 Z" fill="#000"/>
<path d="M768.8 500 L772 508 L773.3 508 L770.1 500 Z" fill="#000"/>
<path d="M772.6 500 L775.8 508 L777.1 508 L773.9 500 Z" fill="#000"/>
</g>
<rect x="9" y="518" width="17" height="56.3" fill="#000"/>
<rect x="23.5" y="516.5" width="8" height="58.7" fill="none" stroke="#000" stroke-width="1"/>
<rect x="27" y="517" width="4" height="57.7" fill="#fff"/>
<rect x="26" y="516" width="1" height="59.7" fill="#000"/>
<rect x="9" y="523" width="14" height="1" fill="#fff"/>
<rect x="24" y="522.5" width="2" height="2" fill="#fff"/>
<rect x="9" y="528" width="14" height="1" fill="#fff"/>
<rect x="24" y="527.5" width="2" height="2" fill="#fff"/>
<rect x="9" y="534" width="14" height="1" fill="#fff"/>
<rect x="24" y="533.5" width="2" height="2" fill="#fff"/>
<rect x="9" y="540" width="14" height="1" fill="#fff"/>
<rect x="24" y="539.5" width="2" height="2" fill="#fff"/>
<rect x="9" y="545" width="14" height="1" fill="#fff"/>
<rect x="24" y="544.5" width="2" height="2" fill="#fff"/>
<rect x="9" y="551" width="14" height="1" fill="#fff"/>
<rect x="24" y="550.5" width="2" height="2" fill="#fff"/>
<rect x="9" y="557" width="14" height="1" fill="#fff"/>
<rect x="24" y="556.5" width="2" height="2" fill="#fff"/>
<rect x="9" y="562" width="14" height="1" fill="#fff"/>
<rect x="24" y="561.5" width="2" height="2" fill="#fff"/>
<rect x="9" y="568" width="14" height="1" fill="#fff"/>
<rect x="24" y="567.5" width="2" height="2" fill="#fff"/>
<rect x="24" y="517" width="2" height="1" fill="#fff"/>
<rect x="24" y="574.3" width="2" height="0.4" fill="#fff"/>
<rect x="755" y="380" width="31.5" height="90.5" fill="#000"/>
<path d="M786.5 379.6 H797.5 L799.5 381.6 V468.5 L797.5 470.5 H786.5" fill="#fff" stroke="#000" stroke-width="1" shape-rendering="geometricPrecision"/>
<rect x="780" y="369" width="7" height="11" fill="#000"/>
<rect x="780" y="470.5" width="7" height="10.3" fill="#000"/>
<rect x="783" y="373" width="2" height="2" fill="#fff"/>
<rect x="783" y="474.8" width="2" height="2" fill="#fff"/>
<rect x="756" y="535" width="30.5" height="41" fill="#000"/>
<path d="M786.5 534.6 H797.5 L799.5 536.6 V574 L797.5 576 H786.5" fill="#fff" stroke="#000" stroke-width="1" shape-rendering="geometricPrecision"/>
<rect x="780" y="524" width="7" height="11" fill="#000"/>
<rect x="780" y="576" width="7" height="10.3" fill="#000"/>
<rect x="783" y="528" width="2" height="2" fill="#fff"/>
<rect x="783" y="580.3" width="2" height="2" fill="#fff"/>
<rect x="755" y="618" width="31.5" height="40.5" fill="#000"/>
<path d="M786.5 617.6 H796.5 L798.5 619.6 V656.5 L796.5 658.5 H786.5" fill="#fff" stroke="#000" stroke-width="1" shape-rendering="geometricPrecision"/>
<rect x="780" y="607" width="7" height="11" fill="#000"/>
<rect x="780" y="658.5" width="7" height="10.3" fill="#000"/>
<rect x="783" y="611" width="2" height="2" fill="#fff"/>
<rect x="783" y="662.8" width="2" height="2" fill="#fff"/>
<rect x="755" y="690" width="31.5" height="41" fill="#000"/>
<path d="M786.5 689.6 H797.5 L799.5 691.6 V729 L797.5 731 H786.5" fill="#fff" stroke="#000" stroke-width="1" shape-rendering="geometricPrecision"/>
<rect x="780" y="679" width="7" height="11" fill="#000"/>
<rect x="780" y="731" width="7" height="10.3" fill="#000"/>
<rect x="783" y="683" width="2" height="2" fill="#fff"/>
<rect x="783" y="735.3" width="2" height="2" fill="#fff"/>
<rect x="336" y="696" width="19" height="7" fill="#000"/>
<rect x="342" y="697" width="1" height="5" fill="#fff"/>
<rect x="348" y="697" width="1" height="5" fill="#fff"/>
<rect x="353" y="697" width="1" height="5" fill="#fff"/>
<rect x="350" y="698" width="2" height="3" fill="#fff"/>
<g shape-rendering="geometricPrecision">
<path d="M60.7 31.4 L78.3 31.4 Q80.6 31.4 80.6 33.7 L80.6 43.3 Q80.6 45.6 78.3 45.6 L60.7 45.6 Q58.4 45.6 58.4 43.3 L58.4 41.25 L42.8 38.6 L58.4 35.75 L58.4 33.7 Q58.4 31.4 60.7 31.4 Z" transform="translate(0.5,0.5)" fill="#000" stroke="#000" stroke-width="1.8" stroke-linejoin="round"/>
<path d="M60.7 31.4 L78.3 31.4 Q80.6 31.4 80.6 33.7 L80.6 43.3 Q80.6 45.6 78.3 45.6 L60.7 45.6 Q58.4 45.6 58.4 43.3 L58.4 41.25 L42.8 38.6 L58.4 35.75 L58.4 33.7 Q58.4 31.4 60.7 31.4 Z" fill="#fff" stroke="#000" stroke-width="1.8" stroke-linejoin="round"/>
<path d="M42.8 38.6 L51.38 40.06 L51.38 37.03 Z" fill="#000" stroke="#000" stroke-width="1.2" stroke-linejoin="round"/>
<text x="69.35" y="42.9" font-size="12.5" text-anchor="middle" fill="#000" textLength="15.8" lengthAdjust="spacing">P7</text>
<path d="M51.2 119.4 L70.3 119.4 Q72.6 119.4 72.6 121.7 L72.6 132.3 Q72.6 134.6 70.3 134.6 L51.2 134.6 Q48.9 134.6 48.9 132.3 L48.9 122 L42.05 112.08 L51.5 119.4 Z" transform="translate(0.5,0.5)" fill="#000" stroke="#000" stroke-width="1.8" stroke-linejoin="round"/>
<path d="M51.2 119.4 L70.3 119.4 Q72.6 119.4 72.6 121.7 L72.6 132.3 Q72.6 134.6 70.3 134.6 L51.2 134.6 Q48.9 134.6 48.9 132.3 L48.9 122 L42.05 112.08 L51.5 119.4 Z" fill="#fff" stroke="#000" stroke-width="1.8" stroke-linejoin="round"/>
<path d="M42.05 112.08 L46.16 118.03 L47.72 116.47 Z" fill="#000" stroke="#000" stroke-width="1.2" stroke-linejoin="round"/>
<text x="60.6" y="131.3" font-size="12.5" text-anchor="middle" fill="#000" textLength="17.3" lengthAdjust="spacing">P8</text>
<path d="M536.2 31.4 L553.8 31.4 Q556.1 31.4 556.1 33.7 L556.1 43.8 Q556.1 46.1 553.8 46.1 L536.2 46.1 Q533.9 46.1 533.9 43.8 L533.9 41.5 L517.8 38.99 L533.9 36 L533.9 33.7 Q533.9 31.4 536.2 31.4 Z" transform="translate(0.5,0.5)" fill="#000" stroke="#000" stroke-width="1.8" stroke-linejoin="round"/>
<path d="M536.2 31.4 L553.8 31.4 Q556.1 31.4 556.1 33.7 L556.1 43.8 Q556.1 46.1 553.8 46.1 L536.2 46.1 Q533.9 46.1 533.9 43.8 L533.9 41.5 L517.8 38.99 L533.9 36 L533.9 33.7 Q533.9 31.4 536.2 31.4 Z" fill="#fff" stroke="#000" stroke-width="1.8" stroke-linejoin="round"/>
<path d="M517.8 38.99 L526.65 40.37 L526.65 37.34 Z" fill="#000" stroke="#000" stroke-width="1.2" stroke-linejoin="round"/>
<text x="544.85" y="42.8" font-size="12.5" text-anchor="middle" fill="#000" textLength="14.8" lengthAdjust="spacing">J7</text>
<path d="M340.4 59.9 L390.7 59.9 Q393 59.9 393 62.2 L393 73.9 Q393 76.2 390.7 76.2 L340.4 76.2 Q338.1 76.2 338.1 73.9 L338.1 62.2 Q338.1 59.9 340.4 59.9 Z" transform="translate(0.5,0.5)" fill="#000" stroke="#000" stroke-width="1.8" stroke-linejoin="round"/>
<path d="M340.4 59.9 L390.7 59.9 Q393 59.9 393 62.2 L393 73.9 Q393 76.2 390.7 76.2 L340.4 76.2 Q338.1 76.2 338.1 73.9 L338.1 62.2 Q338.1 59.9 340.4 59.9 Z" fill="#fff" stroke="#000" stroke-width="1.8" stroke-linejoin="round"/>
<text x="365.4" y="72.6" font-size="12.5" text-anchor="middle" fill="#000" textLength="46.5" lengthAdjust="spacing">BANK 1</text>
<path d="M340.4 82 L390.7 82 Q393 82 393 84.3 L393 96.1 Q393 98.4 390.7 98.4 L340.4 98.4 Q338.1 98.4 338.1 96.1 L338.1 84.3 Q338.1 82 340.4 82 Z" transform="translate(0.5,0.5)" fill="#000" stroke="#000" stroke-width="1.8" stroke-linejoin="round"/>
<path d="M340.4 82 L390.7 82 Q393 82 393 84.3 L393 96.1 Q393 98.4 390.7 98.4 L340.4 98.4 Q338.1 98.4 338.1 96.1 L338.1 84.3 Q338.1 82 340.4 82 Z" fill="#fff" stroke="#000" stroke-width="1.8" stroke-linejoin="round"/>
<text x="365.4" y="94.8" font-size="12.5" text-anchor="middle" fill="#000" textLength="46.5" lengthAdjust="spacing">BANK 0</text>
<path d="M20.2 217.1 L38.9 217.1 Q41.2 217.1 41.2 219.4 L41.2 229.7 Q41.2 232 38.9 232 L32.3 232 L28.83 248.8 L26.8 232 L20.2 232 Q17.9 232 17.9 229.7 L17.9 219.4 Q17.9 217.1 20.2 217.1 Z" transform="translate(0.5,0.5)" fill="#000" stroke="#000" stroke-width="1.8" stroke-linejoin="round"/>
<path d="M20.2 217.1 L38.9 217.1 Q41.2 217.1 41.2 219.4 L41.2 229.7 Q41.2 232 38.9 232 L32.3 232 L28.83 248.8 L26.8 232 L20.2 232 Q17.9 232 17.9 229.7 L17.9 219.4 Q17.9 217.1 20.2 217.1 Z" fill="#fff" stroke="#000" stroke-width="1.8" stroke-linejoin="round"/>
<path d="M28.83 248.8 L30.74 239.56 L27.72 239.56 Z" fill="#000" stroke="#000" stroke-width="1.2" stroke-linejoin="round"/>
<text x="29.4" y="228.7" font-size="12.5" text-anchor="middle" fill="#000" textLength="16.9" lengthAdjust="spacing">P9</text>
<path d="M124.9 284.3 L157.3 284.3 Q159.6 284.3 159.6 286.6 L159.6 297.3 Q159.6 299.6 157.3 299.6 L125.2 299.6 L114.86 307.43 L122.6 297 L122.6 286.6 Q122.6 284.3 124.9 284.3 Z" transform="translate(0.5,0.5)" fill="#000" stroke="#000" stroke-width="1.8" stroke-linejoin="round"/>
<path d="M124.9 284.3 L157.3 284.3 Q159.6 284.3 159.6 286.6 L159.6 297.3 Q159.6 299.6 157.3 299.6 L125.2 299.6 L114.86 307.43 L122.6 297 L122.6 286.6 Q122.6 284.3 124.9 284.3 Z" fill="#fff" stroke="#000" stroke-width="1.8" stroke-linejoin="round"/>
<path d="M114.86 307.43 L121.06 302.73 L119.5 301.17 Z" fill="#000" stroke="#000" stroke-width="1.2" stroke-linejoin="round"/>
<text x="140.95" y="296.3" font-size="12.5" text-anchor="middle" fill="#000" textLength="30.6" lengthAdjust="spacing">15K1</text>
<path d="M51.5 333.9 L75.9 333.9 Q78.2 333.9 78.2 336.2 L78.2 347.6 Q78.2 349.9 75.9 349.9 L51.5 349.9 Q49.2 349.9 49.2 347.6 L49.2 336.5 L38.66 326.85 L51.8 333.9 Z" transform="translate(0.5,0.5)" fill="#000" stroke="#000" stroke-width="1.8" stroke-linejoin="round"/>
<path d="M51.5 333.9 L75.9 333.9 Q78.2 333.9 78.2 336.2 L78.2 347.6 Q78.2 349.9 75.9 349.9 L51.5 349.9 Q49.2 349.9 49.2 347.6 L49.2 336.5 L38.66 326.85 L51.8 333.9 Z" fill="#fff" stroke="#000" stroke-width="1.8" stroke-linejoin="round"/>
<path d="M38.66 326.85 L44.99 332.64 L46.55 331.08 Z" fill="#000" stroke="#000" stroke-width="1.2" stroke-linejoin="round"/>
<text x="63.55" y="345.5" font-size="12.5" text-anchor="middle" fill="#000" textLength="22.6" lengthAdjust="spacing">P10</text>
<path d="M265.6 221.2 L297.4 221.2 L307.97 215.09 L300 223.8 L300 234.5 Q300 236.8 297.7 236.8 L265.6 236.8 Q263.3 236.8 263.3 234.5 L263.3 223.5 Q263.3 221.2 265.6 221.2 Z" transform="translate(0.5,0.5)" fill="#000" stroke="#000" stroke-width="1.8" stroke-linejoin="round"/>
<path d="M265.6 221.2 L297.4 221.2 L307.97 215.09 L300 223.8 L300 234.5 Q300 236.8 297.7 236.8 L265.6 236.8 Q263.3 236.8 263.3 234.5 L263.3 223.5 Q263.3 221.2 265.6 221.2 Z" fill="#fff" stroke="#000" stroke-width="1.8" stroke-linejoin="round"/>
<path d="M307.97 215.09 L301.63 218.75 L303.19 220.31 Z" fill="#000" stroke="#000" stroke-width="1.2" stroke-linejoin="round"/>
<text x="281.5" y="233.5" font-size="12.5" text-anchor="middle" fill="#000" textLength="30.3" lengthAdjust="spacing">17H1</text>
<path d="M351.5 216.8 L383.3 216.8 L393.69 210.31 L385.9 219.4 L385.9 229.7 Q385.9 232 383.6 232 L351.5 232 Q349.2 232 349.2 229.7 L349.2 219.1 Q349.2 216.8 351.5 216.8 Z" transform="translate(0.5,0.5)" fill="#000" stroke="#000" stroke-width="1.8" stroke-linejoin="round"/>
<path d="M351.5 216.8 L383.3 216.8 L393.69 210.31 L385.9 219.4 L385.9 229.7 Q385.9 232 383.6 232 L351.5 232 Q349.2 232 349.2 229.7 L349.2 219.1 Q349.2 216.8 351.5 216.8 Z" fill="#fff" stroke="#000" stroke-width="1.8" stroke-linejoin="round"/>
<path d="M393.69 210.31 L387.45 214.2 L389.01 215.76 Z" fill="#000" stroke="#000" stroke-width="1.2" stroke-linejoin="round"/>
<text x="367.4" y="228.7" font-size="12.5" text-anchor="middle" fill="#000" textLength="30.3" lengthAdjust="spacing">18F1</text>
<path d="M254.2 302.9 L271.8 302.9 Q274.1 302.9 274.1 305.2 L274.1 315.5 L281.47 326.4 L271.5 318.1 L254.2 318.1 Q251.9 318.1 251.9 315.8 L251.9 305.2 Q251.9 302.9 254.2 302.9 Z" transform="translate(0.5,0.5)" fill="#000" stroke="#000" stroke-width="1.8" stroke-linejoin="round"/>
<path d="M254.2 302.9 L271.8 302.9 Q274.1 302.9 274.1 305.2 L274.1 315.5 L281.47 326.4 L271.5 318.1 L254.2 318.1 Q251.9 318.1 251.9 315.8 L251.9 305.2 Q251.9 302.9 254.2 302.9 Z" fill="#fff" stroke="#000" stroke-width="1.8" stroke-linejoin="round"/>
<path d="M281.47 326.4 L277.05 319.86 L275.49 321.42 Z" fill="#000" stroke="#000" stroke-width="1.2" stroke-linejoin="round"/>
<text x="262.85" y="314.8" font-size="12.5" text-anchor="middle" fill="#000" textLength="14.8" lengthAdjust="spacing">J6</text>
<path d="M579.2 321.2 L612.7 321.2 Q615 321.2 615 323.5 L615 334.9 Q615 337.2 612.7 337.2 L579.2 337.2 Q576.9 337.2 576.9 334.9 L576.9 331.95 L561.3 329.39 L576.9 326.45 L576.9 323.5 Q576.9 321.2 579.2 321.2 Z" transform="translate(0.5,0.5)" fill="#000" stroke="#000" stroke-width="1.8" stroke-linejoin="round"/>
<path d="M579.2 321.2 L612.7 321.2 Q615 321.2 615 323.5 L615 334.9 Q615 337.2 612.7 337.2 L579.2 337.2 Q576.9 337.2 576.9 334.9 L576.9 331.95 L561.3 329.39 L576.9 326.45 L576.9 323.5 Q576.9 321.2 579.2 321.2 Z" fill="#fff" stroke="#000" stroke-width="1.8" stroke-linejoin="round"/>
<path d="M561.3 329.39 L569.88 330.8 L569.88 327.77 Z" fill="#000" stroke="#000" stroke-width="1.2" stroke-linejoin="round"/>
<text x="595.8" y="333.9" font-size="12.5" text-anchor="middle" fill="#000" textLength="31.7" lengthAdjust="spacing">15C3</text>
<path d="M684.2 328.4 L716.5 328.4 L726.9 321.53 L719.1 331 L719.1 340.8 Q719.1 343.1 716.8 343.1 L684.2 343.1 Q681.9 343.1 681.9 340.8 L681.9 330.7 Q681.9 328.4 684.2 328.4 Z" transform="translate(0.5,0.5)" fill="#000" stroke="#000" stroke-width="1.8" stroke-linejoin="round"/>
<path d="M684.2 328.4 L716.5 328.4 L726.9 321.53 L719.1 331 L719.1 340.8 Q719.1 343.1 716.8 343.1 L684.2 343.1 Q681.9 343.1 681.9 340.8 L681.9 330.7 Q681.9 328.4 684.2 328.4 Z" fill="#fff" stroke="#000" stroke-width="1.8" stroke-linejoin="round"/>
<path d="M726.9 321.53 L720.66 325.65 L722.22 327.21 Z" fill="#000" stroke="#000" stroke-width="1.2" stroke-linejoin="round"/>
<text x="700.35" y="339.8" font-size="12.5" text-anchor="middle" fill="#000" textLength="30.8" lengthAdjust="spacing">15A1</text>
<path d="M23.2 395.9 L50.5 395.9 L60.9 389.03 L53.1 398.5 L53.1 409.8 Q53.1 412.1 50.8 412.1 L23.2 412.1 Q20.9 412.1 20.9 409.8 L20.9 398.2 Q20.9 395.9 23.2 395.9 Z" transform="translate(0.5,0.5)" fill="#000" stroke="#000" stroke-width="1.8" stroke-linejoin="round"/>
<path d="M23.2 395.9 L50.5 395.9 L60.9 389.03 L53.1 398.5 L53.1 409.8 Q53.1 412.1 50.8 412.1 L23.2 412.1 Q20.9 412.1 20.9 409.8 L20.9 398.2 Q20.9 395.9 23.2 395.9 Z" fill="#fff" stroke="#000" stroke-width="1.8" stroke-linejoin="round"/>
<path d="M60.9 389.03 L54.66 393.15 L56.22 394.71 Z" fill="#000" stroke="#000" stroke-width="1.2" stroke-linejoin="round"/>
<text x="36.85" y="408.8" font-size="12.5" text-anchor="middle" fill="#000" textLength="25.8" lengthAdjust="spacing">P11</text>
<path d="M139.2 393.9 L167 393.9 L176.9 387.53 L169.6 396.5 L169.6 407.3 Q169.6 409.6 167.3 409.6 L139.2 409.6 Q136.9 409.6 136.9 407.3 L136.9 396.2 Q136.9 393.9 139.2 393.9 Z" transform="translate(0.5,0.5)" fill="#000" stroke="#000" stroke-width="1.8" stroke-linejoin="round"/>
<path d="M139.2 393.9 L167 393.9 L176.9 387.53 L169.6 396.5 L169.6 407.3 Q169.6 409.6 167.3 409.6 L139.2 409.6 Q136.9 409.6 136.9 407.3 L136.9 396.2 Q136.9 393.9 139.2 393.9 Z" fill="#fff" stroke="#000" stroke-width="1.8" stroke-linejoin="round"/>
<path d="M176.9 387.53 L170.96 391.35 L172.52 392.91 Z" fill="#000" stroke="#000" stroke-width="1.2" stroke-linejoin="round"/>
<text x="153.1" y="406.3" font-size="12.5" text-anchor="middle" fill="#000" textLength="26.3" lengthAdjust="spacing">P13</text>
<path d="M229.2 393.4 L256.3 393.4 Q258.6 393.4 258.6 395.7 L258.6 406.8 Q258.6 409.1 256.3 409.1 L229.2 409.1 Q226.9 409.1 226.9 406.8 L226.9 396 L220.05 386.08 L229.5 393.4 Z" transform="translate(0.5,0.5)" fill="#000" stroke="#000" stroke-width="1.8" stroke-linejoin="round"/>
<path d="M229.2 393.4 L256.3 393.4 Q258.6 393.4 258.6 395.7 L258.6 406.8 Q258.6 409.1 256.3 409.1 L229.2 409.1 Q226.9 409.1 226.9 406.8 L226.9 396 L220.05 386.08 L229.5 393.4 Z" fill="#fff" stroke="#000" stroke-width="1.8" stroke-linejoin="round"/>
<path d="M220.05 386.08 L224.16 392.03 L225.72 390.47 Z" fill="#000" stroke="#000" stroke-width="1.2" stroke-linejoin="round"/>
<text x="242.6" y="405.8" font-size="12.5" text-anchor="middle" fill="#000" textLength="25.3" lengthAdjust="spacing">P14</text>
<path d="M425.2 398.9 L443.3 398.9 Q445.6 398.9 445.6 401.2 L445.6 412.3 Q445.6 414.6 443.3 414.6 L425.2 414.6 Q422.9 414.6 422.9 412.3 L422.9 401.5 L416.09 392.55 L425.5 398.9 Z" transform="translate(0.5,0.5)" fill="#000" stroke="#000" stroke-width="1.8" stroke-linejoin="round"/>
<path d="M425.2 398.9 L443.3 398.9 Q445.6 398.9 445.6 401.2 L445.6 412.3 Q445.6 414.6 443.3 414.6 L425.2 414.6 Q422.9 414.6 422.9 412.3 L422.9 401.5 L416.09 392.55 L425.5 398.9 Z" fill="#fff" stroke="#000" stroke-width="1.8" stroke-linejoin="round"/>
<path d="M416.09 392.55 L420.17 397.92 L421.73 396.36 Z" fill="#000" stroke="#000" stroke-width="1.2" stroke-linejoin="round"/>
<text x="434.1" y="411.3" font-size="12.5" text-anchor="middle" fill="#000" textLength="16.3" lengthAdjust="spacing">P2</text>
<path d="M557.2 397.9 L574.8 397.9 Q577.1 397.9 577.1 400.2 L577.1 411.8 Q577.1 414.1 574.8 414.1 L557.2 414.1 Q554.9 414.1 554.9 411.8 L554.9 400.5 L547.12 391.51 L557.5 397.9 Z" transform="translate(0.5,0.5)" fill="#000" stroke="#000" stroke-width="1.8" stroke-linejoin="round"/>
<path d="M557.2 397.9 L574.8 397.9 Q577.1 397.9 577.1 400.2 L577.1 411.8 Q577.1 414.1 574.8 414.1 L557.2 414.1 Q554.9 414.1 554.9 411.8 L554.9 400.5 L547.12 391.51 L557.5 397.9 Z" fill="#fff" stroke="#000" stroke-width="1.8" stroke-linejoin="round"/>
<path d="M547.12 391.51 L551.79 396.9 L553.35 395.34 Z" fill="#000" stroke="#000" stroke-width="1.2" stroke-linejoin="round"/>
<text x="565.85" y="410.8" font-size="12.5" text-anchor="middle" fill="#000" textLength="15.8" lengthAdjust="spacing">P1</text>
<path d="M715.7 412.4 L733.8 412.4 Q736.1 412.4 736.1 414.7 L736.1 417.5 L752.2 420.49 L736.1 423 L736.1 425.8 Q736.1 428.1 733.8 428.1 L715.7 428.1 Q713.4 428.1 713.4 425.8 L713.4 414.7 Q713.4 412.4 715.7 412.4 Z" transform="translate(0.5,0.5)" fill="#000" stroke="#000" stroke-width="1.8" stroke-linejoin="round"/>
<path d="M715.7 412.4 L733.8 412.4 Q736.1 412.4 736.1 414.7 L736.1 417.5 L752.2 420.49 L736.1 423 L736.1 425.8 Q736.1 428.1 733.8 428.1 L715.7 428.1 Q713.4 428.1 713.4 425.8 L713.4 414.7 Q713.4 412.4 715.7 412.4 Z" fill="#fff" stroke="#000" stroke-width="1.8" stroke-linejoin="round"/>
<path d="M752.2 420.49 L743.35 418.84 L743.35 421.87 Z" fill="#000" stroke="#000" stroke-width="1.2" stroke-linejoin="round"/>
<text x="724.6" y="424.8" font-size="12.5" text-anchor="middle" fill="#000" textLength="16.3" lengthAdjust="spacing">P3</text>
<path d="M703.4 470.1 L735.7 470.1 Q738 470.1 738 472.4 L738 483 L746.89 493.08 L735.4 485.6 L703.4 485.6 Q701.1 485.6 701.1 483.3 L701.1 472.4 Q701.1 470.1 703.4 470.1 Z" transform="translate(0.5,0.5)" fill="#000" stroke="#000" stroke-width="1.8" stroke-linejoin="round"/>
<path d="M703.4 470.1 L735.7 470.1 Q738 470.1 738 472.4 L738 483 L746.89 493.08 L735.4 485.6 L703.4 485.6 Q701.1 485.6 701.1 483.3 L701.1 472.4 Q701.1 470.1 703.4 470.1 Z" fill="#fff" stroke="#000" stroke-width="1.8" stroke-linejoin="round"/>
<path d="M746.89 493.08 L741.56 487.03 L740 488.59 Z" fill="#000" stroke="#000" stroke-width="1.2" stroke-linejoin="round"/>
<text x="719.4" y="482.3" font-size="12.5" text-anchor="middle" fill="#000" textLength="30.5" lengthAdjust="spacing">10A1</text>
<path d="M584.2 510.4 L618 510.4 L628.42 503.05 L620.6 513 L620.6 523.8 Q620.6 526.1 618.3 526.1 L584.2 526.1 Q581.9 526.1 581.9 523.8 L581.9 512.7 Q581.9 510.4 584.2 510.4 Z" transform="translate(0.5,0.5)" fill="#000" stroke="#000" stroke-width="1.8" stroke-linejoin="round"/>
<path d="M584.2 510.4 L618 510.4 L628.42 503.05 L620.6 513 L620.6 523.8 Q620.6 526.1 618.3 526.1 L584.2 526.1 Q581.9 526.1 581.9 523.8 L581.9 512.7 Q581.9 510.4 584.2 510.4 Z" fill="#fff" stroke="#000" stroke-width="1.8" stroke-linejoin="round"/>
<path d="M628.42 503.05 L622.17 507.46 L623.73 509.02 Z" fill="#000" stroke="#000" stroke-width="1.2" stroke-linejoin="round"/>
<text x="601.1" y="522.8" font-size="12.5" text-anchor="middle" fill="#000" textLength="32.3" lengthAdjust="spacing">11B5</text>
<path d="M44.4 501 L70.9 501 Q73.2 501 73.2 503.3 L73.2 514.9 Q73.2 517.2 70.9 517.2 L44.7 517.2 L34.77 524.44 L42.1 514.6 L42.1 503.3 Q42.1 501 44.4 501 Z" transform="translate(0.5,0.5)" fill="#000" stroke="#000" stroke-width="1.8" stroke-linejoin="round"/>
<path d="M44.4 501 L70.9 501 Q73.2 501 73.2 503.3 L73.2 514.9 Q73.2 517.2 70.9 517.2 L44.7 517.2 L34.77 524.44 L42.1 514.6 L42.1 503.3 Q42.1 501 44.4 501 Z" fill="#fff" stroke="#000" stroke-width="1.8" stroke-linejoin="round"/>
<path d="M34.77 524.44 L40.73 520.1 L39.17 518.54 Z" fill="#000" stroke="#000" stroke-width="1.2" stroke-linejoin="round"/>
<text x="57.5" y="513.9" font-size="12.5" text-anchor="middle" fill="#000" textLength="24.7" lengthAdjust="spacing">P12</text>
<path d="M333.2 519.9 L356 519.9 L367.37 512.99 L358.6 522.5 L358.6 533.3 Q358.6 535.6 356.3 535.6 L333.2 535.6 Q330.9 535.6 330.9 533.3 L330.9 522.2 Q330.9 519.9 333.2 519.9 Z" transform="translate(0.5,0.5)" fill="#000" stroke="#000" stroke-width="1.8" stroke-linejoin="round"/>
<path d="M333.2 519.9 L356 519.9 L367.37 512.99 L358.6 522.5 L358.6 533.3 Q358.6 535.6 356.3 535.6 L333.2 535.6 Q330.9 535.6 330.9 533.3 L330.9 522.2 Q330.9 519.9 333.2 519.9 Z" fill="#fff" stroke="#000" stroke-width="1.8" stroke-linejoin="round"/>
<path d="M367.37 512.99 L360.55 517.14 L362.11 518.7 Z" fill="#000" stroke="#000" stroke-width="1.2" stroke-linejoin="round"/>
<text x="344.6" y="532.3" font-size="12.5" text-anchor="middle" fill="#000" textLength="21.3" lengthAdjust="spacing">J10</text>
<path d="M715.7 549.4 L733.8 549.4 Q736.1 549.4 736.1 551.7 L736.1 554.25 L752.2 556.52 L736.1 559.75 L736.1 562.3 Q736.1 564.6 733.8 564.6 L715.7 564.6 Q713.4 564.6 713.4 562.3 L713.4 551.7 Q713.4 549.4 715.7 549.4 Z" transform="translate(0.5,0.5)" fill="#000" stroke="#000" stroke-width="1.8" stroke-linejoin="round"/>
<path d="M715.7 549.4 L733.8 549.4 Q736.1 549.4 736.1 551.7 L736.1 554.25 L752.2 556.52 L736.1 559.75 L736.1 562.3 Q736.1 564.6 733.8 564.6 L715.7 564.6 Q713.4 564.6 713.4 562.3 L713.4 551.7 Q713.4 549.4 715.7 549.4 Z" fill="#fff" stroke="#000" stroke-width="1.8" stroke-linejoin="round"/>
<path d="M752.2 556.52 L743.35 555.27 L743.35 558.3 Z" fill="#000" stroke="#000" stroke-width="1.2" stroke-linejoin="round"/>
<text x="724.6" y="561.3" font-size="12.5" text-anchor="middle" fill="#000" textLength="16.3" lengthAdjust="spacing">P6</text>
<path d="M625.6 580.9 L642.7 580.9 L653.23 573.16 L645.3 583.5 L645.3 593.8 Q645.3 596.1 643 596.1 L625.6 596.1 Q623.3 596.1 623.3 593.8 L623.3 583.2 Q623.3 580.9 625.6 580.9 Z" transform="translate(0.5,0.5)" fill="#000" stroke="#000" stroke-width="1.8" stroke-linejoin="round"/>
<path d="M625.6 580.9 L642.7 580.9 L653.23 573.16 L645.3 583.5 L645.3 593.8 Q645.3 596.1 643 596.1 L625.6 596.1 Q623.3 596.1 623.3 593.8 L623.3 583.2 Q623.3 580.9 625.6 580.9 Z" fill="#fff" stroke="#000" stroke-width="1.8" stroke-linejoin="round"/>
<path d="M653.23 573.16 L646.91 577.8 L648.47 579.36 Z" fill="#000" stroke="#000" stroke-width="1.2" stroke-linejoin="round"/>
<text x="634.15" y="592.8" font-size="12.5" text-anchor="middle" fill="#000" textLength="14.8" lengthAdjust="spacing">J8</text>
<path d="M715.7 628.9 L733.8 628.9 Q736.1 628.9 736.1 631.2 L736.1 633.75 L752.2 636.5 L736.1 639.25 L736.1 641.8 Q736.1 644.1 733.8 644.1 L715.7 644.1 Q713.4 644.1 713.4 641.8 L713.4 631.2 Q713.4 628.9 715.7 628.9 Z" transform="translate(0.5,0.5)" fill="#000" stroke="#000" stroke-width="1.8" stroke-linejoin="round"/>
<path d="M715.7 628.9 L733.8 628.9 Q736.1 628.9 736.1 631.2 L736.1 633.75 L752.2 636.5 L736.1 639.25 L736.1 641.8 Q736.1 644.1 733.8 644.1 L715.7 644.1 Q713.4 644.1 713.4 641.8 L713.4 631.2 Q713.4 628.9 715.7 628.9 Z" fill="#fff" stroke="#000" stroke-width="1.8" stroke-linejoin="round"/>
<path d="M752.2 636.5 L743.35 634.99 L743.35 638.01 Z" fill="#000" stroke="#000" stroke-width="1.2" stroke-linejoin="round"/>
<text x="724.6" y="640.8" font-size="12.5" text-anchor="middle" fill="#000" textLength="16.3" lengthAdjust="spacing">P5</text>
<path d="M715.7 704.4 L733.8 704.4 Q736.1 704.4 736.1 706.7 L736.1 709.5 L752.2 712.49 L736.1 715 L736.1 717.8 Q736.1 720.1 733.8 720.1 L715.7 720.1 Q713.4 720.1 713.4 717.8 L713.4 706.7 Q713.4 704.4 715.7 704.4 Z" transform="translate(0.5,0.5)" fill="#000" stroke="#000" stroke-width="1.8" stroke-linejoin="round"/>
<path d="M715.7 704.4 L733.8 704.4 Q736.1 704.4 736.1 706.7 L736.1 709.5 L752.2 712.49 L736.1 715 L736.1 717.8 Q736.1 720.1 733.8 720.1 L715.7 720.1 Q713.4 720.1 713.4 717.8 L713.4 706.7 Q713.4 704.4 715.7 704.4 Z" fill="#fff" stroke="#000" stroke-width="1.8" stroke-linejoin="round"/>
<path d="M752.2 712.49 L743.35 710.84 L743.35 713.87 Z" fill="#000" stroke="#000" stroke-width="1.2" stroke-linejoin="round"/>
<text x="724.6" y="716.8" font-size="12.5" text-anchor="middle" fill="#000" textLength="16.3" lengthAdjust="spacing">P4</text>
<path d="M354.2 669.4 L382.3 669.4 Q384.6 669.4 384.6 671.7 L384.6 682.8 Q384.6 685.1 382.3 685.1 L354.5 685.1 L345.07 691.93 L351.9 682.5 L351.9 671.7 Q351.9 669.4 354.2 669.4 Z" transform="translate(0.5,0.5)" fill="#000" stroke="#000" stroke-width="1.8" stroke-linejoin="round"/>
<path d="M354.2 669.4 L382.3 669.4 Q384.6 669.4 384.6 671.7 L384.6 682.8 Q384.6 685.1 382.3 685.1 L354.5 685.1 L345.07 691.93 L351.9 682.5 L351.9 671.7 Q351.9 669.4 354.2 669.4 Z" fill="#fff" stroke="#000" stroke-width="1.8" stroke-linejoin="round"/>
<path d="M345.07 691.93 L350.73 687.83 L349.17 686.27 Z" fill="#000" stroke="#000" stroke-width="1.2" stroke-linejoin="round"/>
<text x="368.1" y="681.8" font-size="12.5" text-anchor="middle" fill="#000" textLength="24.6" lengthAdjust="spacing">3F1</text>
<path d="M340.2 722.4 L358.5 722.4 L368.47 714.1 L361.1 725 L361.1 735.3 Q361.1 737.6 358.8 737.6 L340.2 737.6 Q337.9 737.6 337.9 735.3 L337.9 724.7 Q337.9 722.4 340.2 722.4 Z" transform="translate(0.5,0.5)" fill="#000" stroke="#000" stroke-width="1.8" stroke-linejoin="round"/>
<path d="M340.2 722.4 L358.5 722.4 L368.47 714.1 L361.1 725 L361.1 735.3 Q361.1 737.6 358.8 737.6 L340.2 737.6 Q337.9 737.6 337.9 735.3 L337.9 724.7 Q337.9 722.4 340.2 722.4 Z" fill="#fff" stroke="#000" stroke-width="1.8" stroke-linejoin="round"/>
<path d="M368.47 714.1 L362.49 719.08 L364.05 720.64 Z" fill="#000" stroke="#000" stroke-width="1.2" stroke-linejoin="round"/>
<text x="349.35" y="734.3" font-size="12.5" text-anchor="middle" fill="#000" textLength="14.8" lengthAdjust="spacing">J9</text>
</g>
</svg>
</body>
</html>
